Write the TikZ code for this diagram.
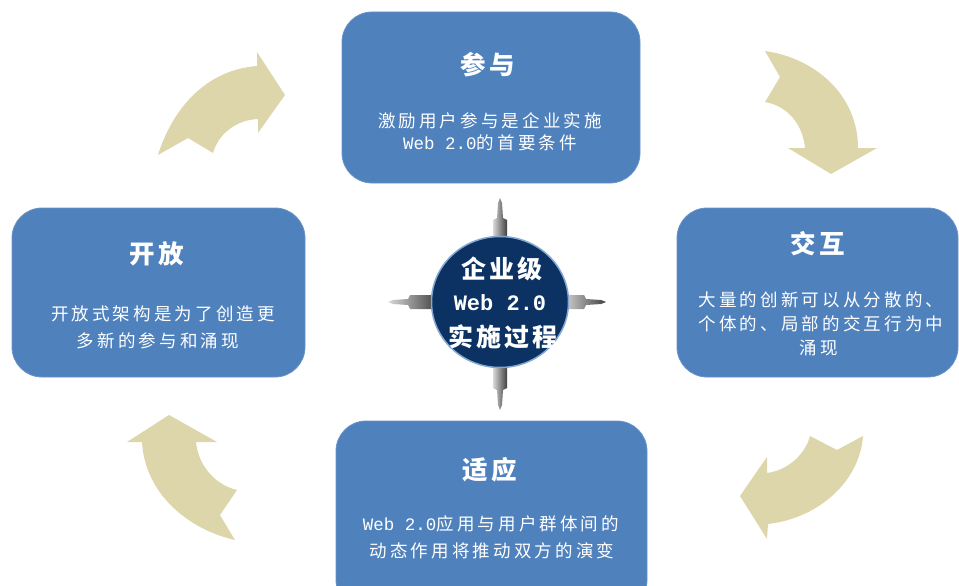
\documentclass[tikz,border=0pt]{standalone}
\usepackage{fontspec}
\usetikzlibrary{shapes.geometric}
\newfontfamily\cjk[LetterSpace=18]{Noto Sans CJK SC}
\newfontfamily\cjkt[LetterSpace=12]{Noto Sans CJK SC}
\newfontfamily\cjkc[LetterSpace=12]{Noto Sans CJK SC}
\newfontfamily\lmono{Liberation Mono}
\definecolor{boxblue}{HTML}{4F81BD}
\definecolor{navy}{HTML}{0B3263}
\definecolor{beige}{HTML}{DDD6AA}
\tikzset{
  x=1pt,y=-1pt,
  card/.style={fill=boxblue,draw=boxblue!85!white,line width=0.8pt,rounded corners=30pt},
  ttl/.style={text=white,font=\cjkt\bfseries\fontsize{25.5}{27}\selectfont,inner sep=0pt},
  body/.style={text=white,font=\cjk\fontsize{17.5}{20}\selectfont,inner sep=0pt},
  ctr/.style={text=white,font=\cjkc\bfseries\fontsize{25}{27}\selectfont,inner sep=0pt},
  bendarrow/.style={fill=beige},
  spokefill/.style={left color=gray!30,right color=black!75,draw=none}
}
\begin{document}
\begin{tikzpicture}
\clip (0,0) rectangle (959,586);
\fill[white] (0,0) rectangle (959,586);
% curved arrows
\fill[bendarrow] (158,155) .. controls (172,110) and (205,70) .. (257,66) -- (257,52) -- (285,95) -- (258,133) -- (258,119) .. controls (235,120) and (218,135) .. (213,153) -- (188,138) -- cycle;
\fill[bendarrow] (765,51) .. controls (815,58) and (858,95) .. (858,148) -- (877,148) -- (831,174) -- (788,148) -- (805,148) .. controls (803,125) and (788,106) .. (765,102) -- (780,77) -- cycle;
\fill[bendarrow] (863,436) .. controls (860,480) and (820,518) .. (768,524) -- (767,539) -- (740,496) -- (767,457) -- (767,473) .. controls (790,470) and (806,452) .. (810,436) -- (837,450) -- cycle;
\fill[bendarrow] (169,415) -- (217,442) -- (196,442) .. controls (198,465) and (215,485) .. (237,490) -- (220,515) -- (235,540) .. controls (190,530) and (145,495) .. (142,442) -- (127,442) -- cycle;
% boxes
\draw[card] (342,12) rectangle (640,183);
\draw[card] (12,208) rectangle (305,377);
\draw[card] (677,208) rectangle (958,377);
\draw[card] (336,421) rectangle (647,610);
% texts
\node[ttl] (t1) at (488,65) {参与};
\node[body] (t1a) at (490,121) {激励用户参与是企业实施};
\node[body] (t1b) at (490,143) {{\lmono Web 2.0}的首要条件};
\node[ttl] (t2) at (157,254) {开放};
\node[body] (t2a) at (163,314) {开放式架构是为了创造更};
\node[body] (t2b) at (158,341) {多新的参与和涌现};
\node[ttl] (t3) at (818,244) {交互};
\node[body] (t3a) at (821,300) {大量的创新可以从分散的、};
\node[body] (t3b) at (821,324) {个体的、局部的交互行为中};
\node[body] (t3c) at (819,348) {涌现};
\node[ttl] (t4) at (490,470) {适应};
\node[body] (t4a) at (491,524) {{\lmono Web 2.0}应用与用户群体间的};
\node[body] (t4b) at (492,551) {动态作用将推动双方的演变};
% spokes
\foreach \a/\L in {0/106,90/104,180/112,270/108}{
  \begin{scope}[shift={(500,302)},rotate=\a]
    \path[spokefill] (62,-7) -- (\L-22,-7) -- (\L-20,-3) -- (\L-5,-2) -- (\L,0) -- (\L-5,2) -- (\L-20,3) -- (\L-22,7) -- (62,7) -- cycle;
  \end{scope}
}
% centre circle
\node[ellipse,draw=boxblue!70!white,line width=1.5pt,fill=navy,minimum width=137pt,minimum height=131pt,inner sep=0pt] (c) at (500,302) {};
\node[ctr] (c1) at (502,269) {企业级};
\node[text=white,font=\lmono\bfseries\fontsize{22}{24}\selectfont,inner sep=0pt] (c2) at (500,303) {Web 2.0};
\node[ctr] (c3) at (503,337) {实施过程};
\end{tikzpicture}
\end{document}
